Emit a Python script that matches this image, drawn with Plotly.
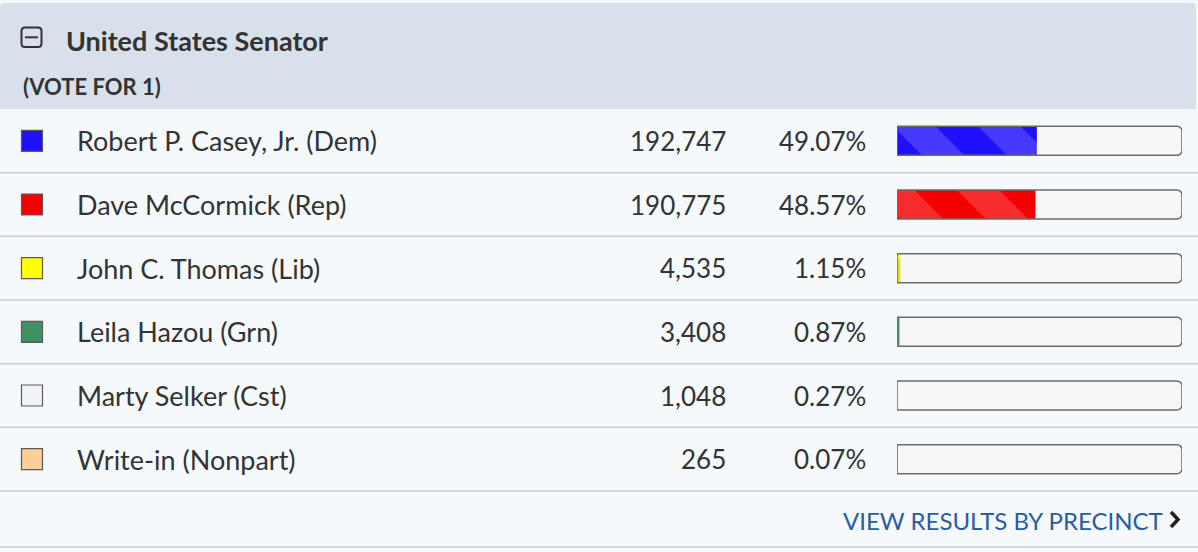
import plotly.graph_objects as go

# contest data
contest = "United States Senator"
vote_for = "(VOTE FOR 1)"
candidates = ["Robert P. Casey, Jr. (Dem)", "Dave McCormick (Rep)", "John C. Thomas (Lib)",
              "Leila Hazou (Grn)", "Marty Selker (Cst)", "Write-in (Nonpart)"]
votes = [192747, 190775, 4535, 3408, 1048, 265]
party_colors = ["#1f10ff", "#f50000", "#ffff00", "#3e9160", "#f2f1f5", "#fccf95"]

total = sum(votes)
pcts = [v / total * 100 for v in votes]

W, H = 1198, 552
FONT = "Lato, 'Open Sans', sans-serif"
TXT = "#333333"

# row band (pixels): header ends at 109, 6 rows of ~63.7px
row_top, row_bot = 109, 491
bar_x0, bar_x1 = 897, 1182

fig = go.Figure()

# bar track (background)
fig.add_trace(go.Bar(
    x=[100] * len(candidates), y=candidates, orientation="h",
    marker=dict(color="#f7f7f7", line=dict(width=0), cornerradius=5),
    width=0.455, xaxis="x2", yaxis="y2", hoverinfo="skip", showlegend=False))

# vote share fill, with faint light diagonal stripes
fig.add_trace(go.Bar(
    x=pcts, y=candidates, orientation="h",
    marker=dict(color=party_colors, line=dict(width=0), cornerradius=3,
                pattern=dict(shape="\\", fillmode="overlay", fgcolor="#ffffff",
                             fgopacity=0.17, size=60, solidity=0.5)),
    width=0.455, xaxis="x2", yaxis="y2", showlegend=False))

# track border on top
fig.add_trace(go.Bar(
    x=[100] * len(candidates), y=candidates, orientation="h",
    marker=dict(color="rgba(0,0,0,0)", line=dict(width=1.5, color="#6b6b6b"), cornerradius=5),
    width=0.455, xaxis="x2", yaxis="y2", hoverinfo="skip", showlegend=False))

# party swatches
fig.add_trace(go.Scatter(
    x=[32] * len(candidates), y=candidates, mode="markers",
    marker=dict(symbol="square", size=21, color=party_colors, line=dict(width=1.2, color="#5a5a5a")),
    xaxis="x", yaxis="y2", hoverinfo="skip", showlegend=False))

shapes = []
# page background + header
shapes.append(dict(type="rect", xref="x", yref="y", x0=0, x1=W, y0=0, y1=H,
                   fillcolor="#f5f9fc", line_width=0, layer="below"))
shapes.append(dict(type="path", xref="x", yref="y", layer="below",
                   path="M0,109 L0,7 Q0,3 4,3 L1192,3 Q1196,3 1196,7 L1196,109 Z",
                   fillcolor="#d8e1eb", line_width=0))
# row separators
step = (row_bot - row_top) / len(candidates)
for i in range(1, len(candidates) + 1):
    yy = row_top + i * step
    shapes.append(dict(type="line", xref="x", yref="y", x0=0, x1=W, y0=yy, y1=yy,
                       line=dict(color="#c9ced3", width=1.5)))
shapes.append(dict(type="line", xref="x", yref="y", x0=0, x1=W, y0=547, y1=547,
                   line=dict(color="#c9ced3", width=1.5)))
# collapse icon
shapes.append(dict(type="path", xref="x", yref="y",
                   path="M25,27.5 L38,27.5 Q41.5,27.5 41.5,31 L41.5,43.5 Q41.5,47 38,47 L25,47 Q21.5,47 21.5,43.5 L21.5,31 Q21.5,27.5 25,27.5 Z",
                   line=dict(color="#333333", width=2)))
shapes.append(dict(type="line", xref="x", yref="y", x0=25, x1=38, y0=37.3, y1=37.3,
                   line=dict(color="#333333", width=2)))
# chevron
shapes.append(dict(type="path", xref="x", yref="y", path="M1171,512 L1178,519.5 L1171,527",
                   line=dict(color="#222222", width=3.5)))

ann = []
ann.append(dict(x=64, y=40, xref="x", yref="y", text="<b>" + contest + "</b>", showarrow=False,
                xanchor="left", yanchor="middle", font=dict(family=FONT, size=27, color=TXT)))
ann.append(dict(x=21, y=86, xref="x", yref="y", text="<b>" + vote_for + "</b>", showarrow=False,
                xanchor="left", yanchor="middle", font=dict(family=FONT, size=22, color=TXT)))
for name, v, p in zip(candidates, votes, pcts):
    ann.append(dict(x=75, y=name, xref="x", yref="y2", text=name, showarrow=False,
                    xanchor="left", yanchor="middle", font=dict(family=FONT, size=27, color=TXT)))
    ann.append(dict(x=728, y=name, xref="x", yref="y2", text=f"{v:,}", showarrow=False,
                    xanchor="right", yanchor="middle", font=dict(family=FONT, size=26, color=TXT)))
    ann.append(dict(x=868, y=name, xref="x", yref="y2", text=f"{p:.2f}%", showarrow=False,
                    xanchor="right", yanchor="middle", font=dict(family=FONT, size=26, color=TXT)))
ann.append(dict(x=1165, y=520, xref="x", yref="y", text="VIEW RESULTS BY PRECINCT", showarrow=False,
                xanchor="right", yanchor="middle", font=dict(family=FONT, size=24, color="#2a5ca6")))

fig.update_layout(
    width=W, height=H, margin=dict(l=0, r=0, t=0, b=0),
    paper_bgcolor="#f5f9fc", plot_bgcolor="rgba(0,0,0,0)",
    barmode="overlay", shapes=shapes, annotations=ann,
    xaxis=dict(range=[0, W], domain=[0, 1], visible=False, fixedrange=True),
    yaxis=dict(range=[H, 0], domain=[0, 1], visible=False, fixedrange=True),
    xaxis2=dict(range=[0, 100], domain=[bar_x0 / W, bar_x1 / W], visible=False, anchor="y2", fixedrange=True),
    yaxis2=dict(type="category", categoryarray=candidates, range=[len(candidates) - 0.5, -0.5],
                domain=[1 - row_bot / H, 1 - row_top / H], visible=False, anchor="x2", fixedrange=True),
)

# drop the default 8px body margin so the figure sits flush with the window
fig.write_html("out.html", config={"displayModeBar": False},
               post_script="document.body.style.margin='0';document.body.style.overflow='hidden';")
